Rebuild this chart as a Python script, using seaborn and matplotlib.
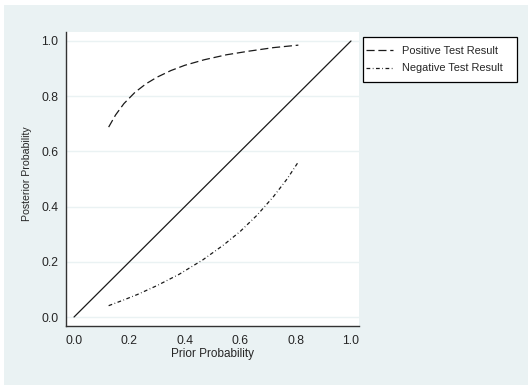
import pandas as pd
import seaborn as sns
import matplotlib.pyplot as plt
from matplotlib.patches import Rectangle

# values
pos_x = [0.125, 0.15, 0.18, 0.22, 0.26, 0.30, 0.35, 0.40, 0.47, 0.55, 0.63, 0.72, 0.81]
pos_y = [0.688, 0.732, 0.773, 0.814, 0.845, 0.869, 0.893, 0.912, 0.932, 0.950, 0.963, 0.976, 0.985]
neg_x = [0.125, 0.18, 0.23, 0.30, 0.38, 0.465, 0.54, 0.60, 0.66, 0.72, 0.77, 0.81]
neg_y = [0.041, 0.062, 0.082, 0.114, 0.155, 0.207, 0.261, 0.310, 0.368, 0.436, 0.501, 0.562]
diag_x = [0.0, 1.0]
diag_y = [0.0, 1.0]
ticks = [0.0, 0.2, 0.4, 0.6, 0.8, 1.0]
tick_labels = ["0.0", "0.2", "0.4", "0.6", "0.8", "1.0"]

pos = pd.DataFrame({"prior": pos_x, "post": pos_y})
neg = pd.DataFrame({"prior": neg_x, "post": neg_y})
diag = pd.DataFrame({"prior": diag_x, "post": diag_y})

sns.set_style("white")
plt.rcParams['font.family'] = ['Liberation Sans', 'DejaVu Sans']

bg = "#eaf2f3"
W, H = 528, 388
fig = plt.figure(figsize=(W / 100, H / 100), dpi=100, facecolor="white")
# outer graph region
fig.patches.append(Rectangle((4 / W, 1 - 385 / H), 524 / W, 380 / H,
                             transform=fig.transFigure, facecolor=bg,
                             edgecolor="none", zorder=-10))

ax = fig.add_axes([66 / W, 1 - 326 / H, 293 / W, 294 / H])
ax.set_facecolor("white")

sns.lineplot(data=pos, x="prior", y="post", ax=ax, color="#1a1a1a", lw=0.9,
             label="Positive Test Result", sort=False)
sns.lineplot(data=neg, x="prior", y="post", ax=ax, color="#1a1a1a", lw=0.9,
             label="Negative Test Result", sort=False)
sns.lineplot(data=diag, x="prior", y="post", ax=ax, color="#1a1a1a", lw=0.9,
             sort=False)
ax.lines[0].set_dashes([6.5, 3])
ax.lines[1].set_dashes([3, 2, 0.6, 2])

ax.set_xlim(-0.029, 1.029)
ax.set_ylim(-0.0326, 1.0326)
ax.set_xticks(ticks)
ax.set_xticklabels(tick_labels)
ax.set_yticks(ticks)
ax.set_yticklabels(tick_labels)
ax.tick_params(axis="both", direction="out", length=4.5, width=0.8,
               color="#333333", labelsize=8.7)
ax.tick_params(axis="x", pad=2.2)
ax.tick_params(axis="y", pad=1)
ax.yaxis.grid(True, color=bg, lw=1)
ax.set_axisbelow(True)
for s in ["top", "right"]:
    ax.spines[s].set_visible(False)
for s in ["left", "bottom"]:
    ax.spines[s].set_color("#333333")
    ax.spines[s].set_linewidth(1.0)

ax.set_xlabel("Prior Probability", fontsize=8.5)
ax.xaxis.set_label_coords(0.5, -(354 - 326) / 294, transform=ax.transAxes)
ax.xaxis.label.set_va("center")
ax.set_ylabel("Posterior Probability", fontsize=7.6)
ax.yaxis.set_label_coords((27 - 66) / 293, (326 - 174) / 294, transform=ax.transAxes)
ax.yaxis.label.set_va("center")

# legend box drawn by hand (under the axes), entries placed inside it
fig.patches.append(Rectangle((363 / W, 1 - 82 / H), 154 / W, 45 / H,
                             transform=fig.transFigure, facecolor="white",
                             edgecolor="black", lw=0.9, zorder=-5))
leg = ax.legend(loc="upper left", bbox_to_anchor=(366 / W, 1 - 46 / H),
                bbox_transform=fig.transFigure, frameon=False,
                fontsize=7.9, handlelength=2.45, handletextpad=0.8,
                borderpad=0, labelspacing=0.68, borderaxespad=0)

fig.savefig("out.png", dpi=100, facecolor="white")
